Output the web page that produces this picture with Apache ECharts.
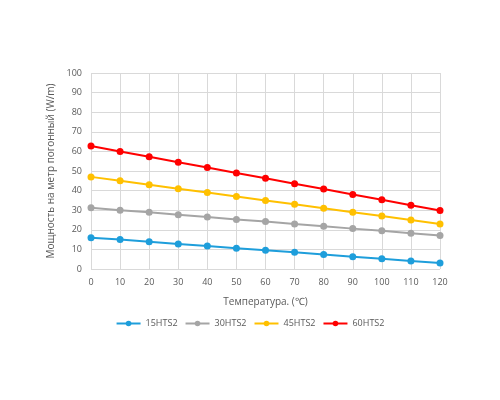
<!DOCTYPE html>
<html lang="ru">
<head>
    <meta charset="UTF-8">
    <title>Мощность</title>
    <script src="https://cdn.jsdelivr.net/npm/echarts@6/dist/echarts.min.js"></script>
    <style>
        html, body { margin: 0; padding: 0; background: #fff; }
        #main { width: 500px; height: 400px; }
    </style>
</head>
<body>
<div id="main"></div>
<script>
    var temps = [0, 10, 20, 30, 40, 50, 60, 70, 80, 90, 100, 110, 120];
    var s15 = [16, 15, 13.9, 12.8, 11.7, 10.6, 9.6, 8.5, 7.4, 6.3, 5.2, 4.1, 3];
    var s30 = [31.2, 30, 28.9, 27.7, 26.5, 25.3, 24.2, 23, 21.8, 20.6, 19.5, 18.3, 17.1];
    var s45 = [47, 45, 43, 41, 39, 37, 35, 33, 31, 29, 27, 25, 23];
    var s60 = [62.8, 60, 57.3, 54.5, 51.8, 49, 46.3, 43.5, 40.8, 38, 35.3, 32.5, 29.8];
    var names = ['15HTS2', '30HTS2', '45HTS2', '60HTS2'];
    var colors = ['#1E9EDB', '#A5A5A5', '#FFC000', '#FF0000'];

    function pairs(vals) {
        return temps.map(function (t, i) { return [t, vals[i]]; });
    }

    var chart = echarts.init(document.getElementById('main'));
    var txt = '#595959';
    var font = 'Open Sans';

    chart.setOption({
        animation: false,
        color: colors,
        textStyle: { fontFamily: font },
        grid: { left: 91, right: 60, top: 73, bottom: 131 },
        legend: {
            bottom: 67,
            left: 'center',
            itemWidth: 24,
            itemHeight: 7,
            itemGap: 7,
            textStyle: { color: txt, fontSize: 9, fontFamily: font },
            data: names
        },
        xAxis: {
            type: 'value',
            min: 0,
            max: 120,
            interval: 10,
            name: 'Температура. (℃)',
            nameLocation: 'middle',
            nameGap: 28,
            nameTextStyle: { color: txt, fontSize: 10 },
            axisLine: { show: false },
            axisTick: { show: false },
            axisLabel: { color: txt, fontSize: 9, margin: 9 },
            splitLine: { lineStyle: { color: '#D9D9D9' } }
        },
        yAxis: {
            type: 'value',
            min: 0,
            max: 100,
            interval: 10,
            name: 'Мощность на метр погонный (W/m)',
            nameLocation: 'middle',
            nameGap: 22,
            nameTextStyle: { color: txt, fontSize: 10 },
            axisLine: { show: false },
            axisTick: { show: false },
            axisLabel: { color: txt, fontSize: 9, margin: 9 },
            splitLine: { lineStyle: { color: '#D9D9D9' } }
        },
        series: [s15, s30, s45, s60].map(function (vals, i) {
            return {
                name: names[i],
                type: 'line',
                data: pairs(vals),
                symbol: 'circle',
                symbolSize: 7,
                lineStyle: { width: 2 },
                itemStyle: { color: colors[i] }
            };
        })
    });
</script>
</body>
</html>
